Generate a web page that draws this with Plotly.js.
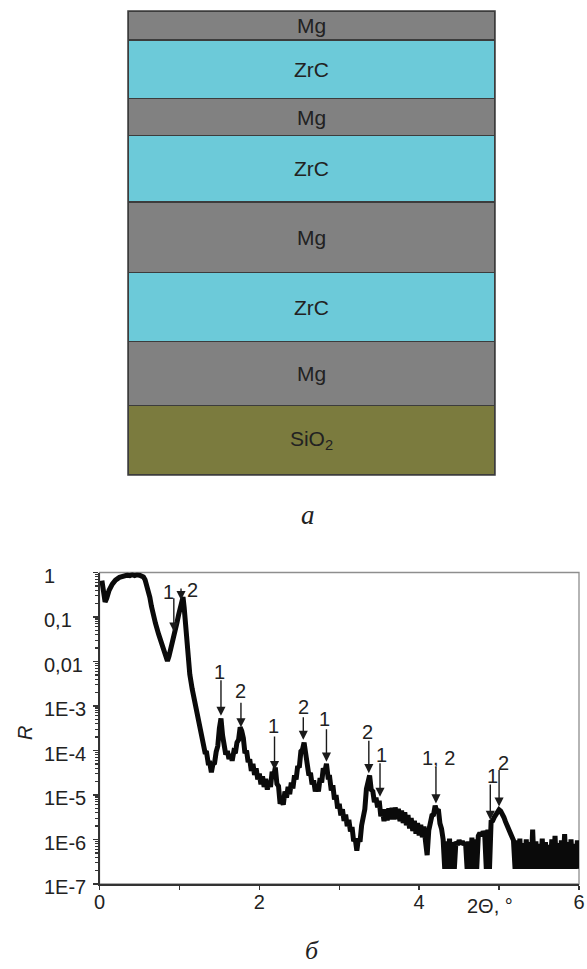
<!DOCTYPE html>
<html>
<head>
<meta charset="utf-8">
<script src="https://cdn.plot.ly/plotly-3.0.1.min.js"></script>
<style>html,body{margin:0;padding:0;background:#fff;}</style>
</head>
<body>
<div id="chart" style="width:587px;height:969px;"></div>
<script>
// ---- (a) layer stack, listed from substrate upward ----
const layerNames = ["SiO<sub>2</sub>", "Mg", "ZrC", "Mg", "ZrC", "Mg", "ZrC", "Mg"];
const layerMaterial = ["SiO2", "Mg", "ZrC", "Mg", "ZrC", "Mg", "ZrC", "Mg"];
const layerThickness = [69.7, 63.6, 69.4, 70.3, 66.7, 36.6, 58.7, 29.0]; // relative thickness

// ---- (b) reflectivity curve ----
const twoTheta = [
  0.03,0.05,0.07,0.09,0.12,0.16,0.20,0.25,0.30,0.35,
  0.38,0.41,0.44,0.47,0.50,0.53,0.55,0.57,0.59,0.61,
  0.63,0.65,0.67,0.70,0.74,0.77,0.80,0.83,0.85,0.87,
  0.89,0.91,0.93,0.95,0.97,0.99,1.01,1.03,1.045,1.06,
  1.08,1.10,1.13,1.16,1.20,1.23,1.26,1.28,
  1.30,1.32,1.34,1.36,1.38,1.40,1.42,1.44,1.46,1.48,
  1.50,1.52,1.54,1.56,1.58,1.60,1.62,1.64,1.66,1.68,
  1.70,1.72,1.74,1.76,1.78,1.80,1.82,1.84,1.86,1.88,
  1.90,1.92,1.94,1.96,1.98,2.00,2.02,2.04,2.06,2.08,
  2.10,2.12,2.14,2.16,2.18,2.20,2.22,2.24,2.26,2.28,
  2.30,2.32,2.34,2.36,2.38,2.40,2.42,2.44,2.46,2.48,
  2.50,2.52,2.54,2.56,2.58,2.60,2.62,2.64,2.66,2.68,
  2.70,2.72,2.74,2.76,2.78,2.80,2.82,2.84,2.86,2.88,
  2.90,2.92,2.94,2.96,2.98,3.00,3.02,3.04,3.06,3.08,
  3.10,3.12,3.14,3.16,3.18,3.20,3.22,3.24,3.26,3.28,
  3.30,3.32,3.34,3.36,3.38,3.40,3.42,3.44,3.46,3.48,
  3.50,3.52,3.54,3.56,3.58,3.60,3.62,3.64,3.66,3.68,
  3.70,3.72,3.74,3.76,3.78,3.80,3.82,3.84,3.86,3.88,
  3.90,3.92,3.94,3.96,3.98,4.00,4.02,4.04,4.06,4.08,
  4.10,4.12,4.14,4.16,4.18,4.20,4.22,4.24,4.26,4.28,
  4.30,
  4.32,4.34,4.36,4.38,4.40,4.42,4.44,4.46,4.48,4.50,
  4.52,4.54,4.56,4.58,4.60,4.62,4.64,4.66,4.68,4.70,
  4.72,4.74,4.76,4.78,4.80,4.82,4.84,4.86,4.88,4.90,
  4.92,4.94,4.96,4.98,5.00,5.02,5.04,5.06,5.08,5.10,
  5.12,5.14,5.16,5.18,5.20,5.22,5.24,5.26,5.28,5.30,
  5.32,5.34,5.36,5.38,5.40,5.42,5.44,5.46,5.48,5.50,
  5.52,5.54,5.56,5.58,5.60,5.62,5.64,5.66,5.68,5.70,
  5.72,5.74,5.76,5.78,5.80,5.82,5.84,5.86,5.88,5.90,
  5.92,5.94,5.96,5.98,6.00
];
// log10 of reflectivity R (noise included)
const log10R = [
  -0.18,-0.42,-0.66,-0.58,-0.40,-0.26,-0.17,-0.11,-0.08,-0.06,
  -0.07,-0.05,-0.07,-0.05,-0.06,-0.08,-0.10,-0.16,-0.28,-0.42,
  -0.56,-0.76,-0.94,-1.14,-1.39,-1.57,-1.73,-1.90,-1.99,-1.88,
  -1.70,-1.52,-1.38,-1.25,-1.12,-0.95,-0.78,-0.60,-0.55,-0.80,
  -1.25,-1.69,-2.29,-2.62,-2.97,-3.28,-3.57,-3.72,
  -3.84,-4.04,-4.05,-4.28,-4.28,-4.49,-4.30,-4.28,-4.03,-3.90,
  -3.50,-3.28,-3.66,-3.86,-4.09,-4.01,-4.19,-4.08,-4.23,-4.03,
  -4.06,-3.82,-3.76,-3.48,-3.56,-3.72,-4.06,-4.00,-4.26,-4.20,
  -4.46,-4.30,-4.55,-4.40,-4.65,-4.52,-4.76,-4.58,-4.82,-4.64,
  -4.88,-4.68,-4.82,-4.48,-4.58,-4.38,-4.75,-4.80,-5.20,-5.10,
  -5.22,-4.92,-5.06,-4.82,-4.98,-4.72,-4.85,-4.56,-4.65,-4.35,
  -4.38,-4.02,-3.98,-3.82,-4.12,-4.22,-4.56,-4.50,-4.76,-4.67,
  -4.92,-4.76,-4.92,-4.62,-4.72,-4.40,-4.48,-4.30,-4.60,-4.60,
  -4.90,-4.78,-5.10,-5.00,-5.30,-5.20,-5.46,-5.32,-5.58,-5.44,
  -5.70,-5.56,-5.82,-5.72,-6.04,-5.98,-6.25,-5.98,-6.05,-5.68,
  -5.50,-5.32,-4.86,-4.68,-4.56,-4.88,-4.92,-5.16,-5.06,-5.28,
  -5.13,-5.48,-5.32,-5.59,-5.32,-5.57,-5.30,-5.55,-5.29,-5.55,
  -5.28,-5.54,-5.31,-5.59,-5.35,-5.63,-5.39,-5.68,-5.45,-5.75,
  -5.52,-5.81,-5.58,-5.87,-5.63,-5.91,-5.67,-5.95,-5.71,-6.05,
  -6.35,-5.80,-5.66,-5.46,-5.44,-5.24,-5.36,-5.32,-5.64,-5.76,
  -6.00,
  -6.66,-6.04,-6.66,-5.98,-6.66,-6.06,-6.66,-6.05,-6.12,-6.02,
  -6.10,-6.04,-6.12,-6.06,-6.66,-6.04,-6.66,-5.96,-6.66,-6.00,
  -6.66,-5.92,-5.85,-5.92,-5.82,-5.88,-6.66,-5.78,-6.66,-5.60,
  -5.58,-5.50,-5.44,-5.38,-5.33,-5.36,-5.42,-5.50,-5.60,-5.70,
  -5.78,-5.86,-5.94,-6.02,-6.66,-6.02,-6.66,-5.98,-6.66,-6.08,
  -6.66,-6.00,-6.66,-6.06,-6.66,-5.78,-6.66,-6.04,-6.66,-6.10,
  -6.66,-5.98,-6.66,-6.06,-6.66,-6.12,-6.66,-6.00,-6.66,-5.92,
  -6.66,-6.08,-6.66,-6.02,-6.66,-5.88,-6.66,-6.06,-6.66,-6.00,
  -6.66,-6.10,-6.66,-6.02,-6.66
];
const reflectivity = log10R.map(v => Math.pow(10, v));

// axis ticks
const xTickVals = [0, 2, 4, 6];
const xTickText = ["0", "2", "4", "6"];
const yTickVals = [1, 0.1, 0.01, 1e-3, 1e-4, 1e-5, 1e-6, 1e-7];
const yTickText = ["1", "0,1", "0,01", "1E-3", "1E-4", "1E-5", "1E-6", "1E-7"];

// peak markers (Bragg peaks of the two periods)
const peakX = [0.93, 1.02, 1.52, 1.77, 2.19, 2.55, 2.84, 3.37, 3.51, 4.21, 4.89, 5.00];
const peakLog10R = [-1.33, -0.62, -3.22, -3.48, -4.44, -3.76, -4.25, -4.51, -5.04, -5.19, -5.56, -5.26];
const peakLabel = ["1", "2", "1", "2", "1", "2", "1", "2", "1", "1, 2", "1", "2"];

// ---- styling (not data) ----
const materialColor = {Mg: "#818181", ZrC: "#6ccad9", SiO2: "#7b7b3e"};
const arrowLen = [35, 13, 37, 26, 35, 24, 34, 34, 35, 38, 37, 38];
const labelDx = [-5, 11, -1, 0, -1, 0, -2, -1, 1, 3, 2, 4];
const labelDy = [40, 10, 44, 36, 44, 33, 43, 41, 42, 45, 44, 44];

const W = 587, H = 969;
const FONT = "Liberation Sans, Arial, sans-serif";

const traces = [];
layerThickness.forEach((t, i) => {
  traces.push({
    type: "bar", x: ["stack"], y: [t], width: [1],
    xaxis: "x2", yaxis: "y2",
    marker: {color: materialColor[layerMaterial[i]], line: {color: "#3c3c3c", width: 1.3}},
    text: [layerNames[i]], textposition: "inside", insidetextanchor: "middle",
    constraintext: "none",
    textfont: {family: FONT, size: 21, color: "#222"},
    hoverinfo: "skip", showlegend: false
  });
});
traces.push({
  type: "scatter", mode: "lines", x: twoTheta, y: reflectivity,
  xaxis: "x", yaxis: "y",
  line: {color: "#0a0a0a", width: 5},
  hoverinfo: "skip", showlegend: false
});

const annotations = [];
yTickVals.forEach((v, i) => {
  annotations.push({
    xref: "paper", yref: "y", x: 42 / W, y: Math.log10(v),
    xanchor: "left", yanchor: "middle", yshift: -3,
    text: yTickText[i], showarrow: false,
    font: {family: FONT, size: 20, color: "#222"}
  });
});
peakX.forEach((x, i) => {
  annotations.push({
    xref: "x", yref: "y", x: x, y: peakLog10R[i],
    text: "", showarrow: true, ax: 0, ay: -arrowLen[i],
    arrowhead: 2, arrowsize: 1.3, arrowwidth: 1.4, arrowcolor: "#1a1a1a", standoff: 0
  });
  annotations.push({
    xref: "x", yref: "y", x: x, y: peakLog10R[i],
    xshift: labelDx[i], yshift: labelDy[i],
    text: peakLabel[i], showarrow: false,
    xanchor: "center", yanchor: "middle",
    font: {family: FONT, size: 20, color: "#222"}
  });
});
annotations.push({
  xref: "paper", yref: "paper", x: 490 / W, y: 1 - 906 / H,
  text: "2Θ, °", showarrow: false, xanchor: "center", yanchor: "middle",
  font: {family: FONT, size: 20, color: "#222"}
});
annotations.push({
  xref: "paper", yref: "paper", x: 25 / W, y: 1 - 733 / H,
  text: "<i>R</i>", showarrow: false, textangle: -90,
  xanchor: "center", yanchor: "middle",
  font: {family: FONT, size: 20, color: "#222"}
});
annotations.push({
  xref: "paper", yref: "paper", x: 308 / W, y: 1 - 515 / H,
  text: "<i>а</i>", showarrow: false, xanchor: "center", yanchor: "middle",
  font: {family: "Liberation Serif, Times New Roman, serif", size: 27, color: "#222"}
});
annotations.push({
  xref: "paper", yref: "paper", x: 312 / W, y: 1 - 950 / H,
  text: "<i>б</i>", showarrow: false, xanchor: "center", yanchor: "middle",
  font: {family: "Liberation Serif, Times New Roman, serif", size: 26, color: "#222"}
});

const layout = {
  width: W, height: H,
  margin: {l: 0, r: 0, t: 0, b: 0},
  paper_bgcolor: "#fff", plot_bgcolor: "#fff",
  barmode: "stack",
  showlegend: false,
  hovermode: false,
  xaxis2: {domain: [128 / W, 495 / W], anchor: "y2", range: [-0.5, 0.5], type: "category",
           visible: false, fixedrange: true},
  yaxis2: {domain: [1 - 475 / H, 1 - 11 / H], anchor: "x2",
           range: [0, layerThickness.reduce((a, b) => a + b, 0)], visible: false, fixedrange: true},
  xaxis: {
    domain: [99.5 / W, 579 / W], anchor: "y", range: [0, 6],
    tickmode: "array", tickvals: xTickVals, ticktext: xTickText,
    ticks: "outside", ticklen: 4, tickwidth: 1.5, tickcolor: "#333",
    minor: {dtick: 1, tick0: 0, ticks: "outside", ticklen: 4, tickwidth: 1.5, tickcolor: "#333"},
    showline: true, linecolor: "#333", linewidth: 1.8,
    showgrid: false, zeroline: false,
    tickfont: {family: FONT, size: 20, color: "#222"},
    ticklabelstandoff: -5,
    fixedrange: true
  },
  yaxis: {
    domain: [1 - 884 / H, 1 - 572.5 / H], anchor: "x", type: "log", range: [-7, 0],
    tickmode: "array", tickvals: yTickVals, showticklabels: false,
    ticks: "outside", ticklen: 5, tickwidth: 1.5, tickcolor: "#333",
    minor: {dtick: "D1", ticks: "outside", ticklen: 3, tickwidth: 1.2, tickcolor: "#333"},
    showline: true, linecolor: "#333", linewidth: 1.8,
    showgrid: false, zeroline: false,
    fixedrange: true
  },
  shapes: [
    {type: "rect", xref: "x domain", yref: "y domain", x0: 0, x1: 1, y0: 0, y1: 1,
     line: {color: "#8e8e8e", width: 1.3}, layer: "below"},
    {type: "rect", xref: "x2 domain", yref: "y2 domain", x0: 0, x1: 1, y0: 0, y1: 1,
     line: {color: "#3c3c3c", width: 1.5}, layer: "above"}
  ],
  annotations: annotations
};

Plotly.newPlot("chart", traces, layout, {displayModeBar: false, staticPlot: true});
</script>
</body>
</html>
